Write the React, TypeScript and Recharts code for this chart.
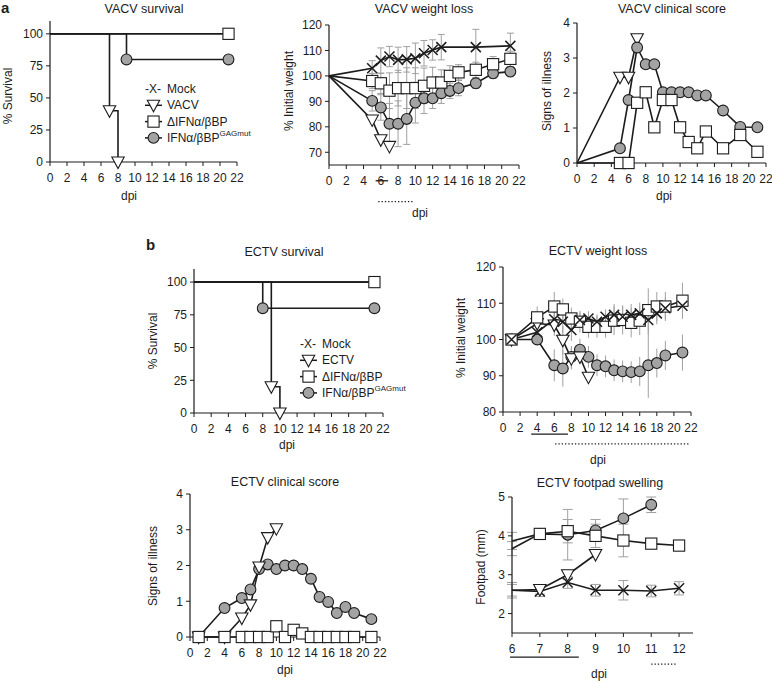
import React from "react";
import { LineChart, Line, XAxis, YAxis, ErrorBar, ReferenceLine } from "recharts";

// ---------- ticks / labels ----------
const dpiTicks = [0, 2, 4, 6, 8, 10, 12, 14, 16, 18, 20, 22];
const footpadDays = [6, 7, 8, 9, 10, 11, 12];
const survivalTicks = [0, 25, 50, 75, 100];
const vacvWeightTicks = [70, 80, 90, 100, 110, 120];
const ectvWeightTicks = [80, 90, 100, 110, 120];
const scoreTicks = [0, 1, 2, 3, 4];
const footpadTicks = [2, 3, 4, 5];

const legendVacv = ["Mock", "VACV", "\u0394IFN\u03b1/\u03b2BP", "IFN\u03b1/\u03b2BP"];
const legendEctv = ["Mock", "ECTV", "\u0394IFN\u03b1/\u03b2BP", "IFN\u03b1/\u03b2BP"];

// ---------- VACV survival ----------
const vacvSurvMockDays = [0, 21];
const vacvSurvMock = [100, 100];
const vacvSurvVirusDays = [0, 7, 8];
const vacvSurvVirus = [100, 40, 0];
const vacvSurvDeltaDays = [0, 21];
const vacvSurvDelta = [100, 100];
const vacvSurvGagDays = [0, 9, 21];
const vacvSurvGag = [100, 80, 80];

// ---------- VACV weight ----------
const vacvWtDays = [0, 5, 6, 7, 8, 9, 10, 11, 12, 13, 14, 15, 17, 19, 21];
const vacvWtMockDays = [0, 5, 6, 7, 8, 9, 10, 11, 12, 13, 17, 21];
const vacvWtMock = [100, 103, 106, 107.6, 106.3, 106.5, 106.9, 108.9, 110.2, 111.3, 111.3, 111.8];
const vacvWtMockSd = [0, 3, 5, 4, 5, 5, 6, 5, 4, 5, 7, 5];
const vacvWtDelta = [100, 98, 97.1, 94.2, 95.2, 95.2, 95.2, 96.1, 97.4, 97.4, 100, 101.4, 102.4, 104.6, 106.7];
const vacvWtDeltaSd = [0, 3, 4, 7, 7, 8, 8, 7, 6, 5, 4, 3, 3, 3, 3];
const vacvWtGag = [100, 90.2, 87.6, 81.2, 81.2, 83.1, 89.5, 91.2, 91.2, 93.2, 94.1, 95.2, 97.1, 101, 101.7];
const vacvWtGagSd = [0, 4, 5, 8, 9, 10, 8, 6, 4, 4, 3, 3, 2, 2, 2];
const vacvWtVirusDays = [0, 5, 6, 7];
const vacvWtVirus = [100, 82.7, 74.9, 72.3];

// ---------- VACV clinical score ----------
const vacvScDays = [0, 5, 6, 7, 8, 9, 10, 11, 12, 13, 14, 15, 17, 19, 21];
const vacvScVirusDays = [0, 5, 6, 7];
const vacvScVirus = [0, 2.45, 2.45, 3.55];
const vacvScGag = [0, 0.42, 1.8, 3.3, 2.82, 2.82, 2.02, 2.02, 2.02, 2.02, 1.93, 1.93, 1.5, 1.03, 1.02];
const vacvScDelta = [0, 0, 0, 1.72, 2.02, 1.02, 1.8, 1.8, 1.02, 0.6, 0.42, 0.9, 0.42, 0.8, 0.32];

// ---------- ECTV survival ----------
const ectvSurvMockDays = [0, 21];
const ectvSurvMock = [100, 100];
const ectvSurvVirusDays = [0, 9, 10];
const ectvSurvVirus = [100, 20, 0];
const ectvSurvDeltaDays = [0, 21];
const ectvSurvDelta = [100, 100];
const ectvSurvGagDays = [0, 8, 21];
const ectvSurvGag = [100, 80, 80];

// ---------- ECTV weight ----------
const ectvWtDays = [1, 4, 6, 7, 8, 9, 10, 11, 12, 13, 14, 15, 16, 17, 18, 19, 21];
const ectvWtMock = [100, 102, 105.6, 104.9, 102.6, 105.4, 105.8, 104.9, 106.3, 106.8, 106.3, 106.8, 107.2, 105.4, 107.2, 108.6, 109.3];
const ectvWtMockSd = [0, 2, 3, 3, 3, 2, 2, 2, 2, 3, 3, 3, 3, 4, 3, 3, 3];
const ectvWtDelta = [100, 106.1, 109.1, 108.3, 105.8, 104.9, 103.5, 103.5, 103.5, 105.2, 105.4, 104.6, 105.2, 108.1, 109.1, 109.1, 110.7];
const ectvWtDeltaSd = [0, 3, 4, 3, 3, 3, 3, 3, 3, 4, 4, 4, 4, 6, 4, 4, 5];
const ectvWtGag = [100, 100, 92.9, 92, 95.2, 97.2, 95.2, 92.9, 92.6, 91.5, 91.2, 91, 91.2, 92.9, 93.5, 95.6, 96.4];
const ectvWtGagSd = [0, 0, 4.4, 5, 3, 3, 3, 3, 3, 3, 3, 3, 4, 9, 4, 4, 5];
const ectvWtVirusDays = [1, 4, 6, 7, 8, 9, 10];
const ectvWtVirus = [100, 104.4, 104, 99.8, 94.7, 95.2, 89.6];
const ectvWtVirusSd = [0, 2, 3, 4, 3, 2, 0];

// ---------- ECTV clinical score ----------
const ectvScDays = [1, 4, 6, 7, 8, 9, 10, 11, 12, 13, 14, 15, 16, 17, 18, 19, 21];
const ectvScDelta = [0, 0, 0, 0, 0, 0, 0.3, 0, 0.2, 0.1, 0, 0, 0, 0, 0, 0, 0];
const ectvScGag = [0, 0.81, 1.09, 1.33, 1.9, 2.03, 1.9, 2.0, 2.0, 1.9, 1.63, 1.12, 0.98, 0.67, 0.84, 0.67, 0.5];
const ectvScVirusDays = [1, 4, 6, 7, 8, 9, 10];
const ectvScVirus = [0, 0, 0.53, 0.9, 1.96, 2.78, 3.03];

// ---------- ECTV footpad ----------
const fpMock = [2.6, 2.57, 2.8, 2.6, 2.6, 2.58, 2.65];
const fpMockSd = [0.2, 0.13, 0.15, 0.15, 0.25, 0.15, 0.17];
const fpVirusDays = [6, 7, 8, 9];
const fpVirus = [2.6, 2.62, 3.0, 3.52];
const fpVirusSd = [0.15, 0.12, 0.12, 0];
const fpDelta = [3.87, 4.05, 4.12, 4.0, 3.88, 3.8, 3.75];
const fpDeltaSd = [0.22, 0.05, 0.3, 0.3, 0.42, 0.05, 0.12];
const fpGagDays = [6, 7, 8, 9, 10, 11];
const fpGag = [3.67, 4.05, 4.03, 4.14, 4.45, 4.8];
const fpGagSd = [0.18, 0.05, 0.65, 0.28, 0.5, 0.2];

// ---------- drawing helpers ----------
const FONT = '"Liberation Sans", Arial, sans-serif';
const INK = "#1c1c1c";
const GRAY = "#a3a3a3";
const ERR = "#a0a0a0";

type Pt = { day: number; v: number; sd: number };
type Shape = "x" | "tri" | "sq" | "circ";

const pts = (days: number[], vals: number[], sd?: number[]): Pt[] =>
  days.map((d, i) => ({ day: d, v: vals[i], sd: sd ? sd[i] : 0 }));

function Marker({ shape, x, y }: { shape: Shape; x: number; y: number }) {
  if (shape === "circ")
    return <circle cx={x} cy={y} r={5.4} fill={GRAY} stroke={INK} strokeWidth={1.1} />;
  if (shape === "sq")
    return <rect x={x - 5.6} y={y - 5.6} width={11.2} height={11.2} fill="#fff" stroke={INK} strokeWidth={1.1} />;
  if (shape === "tri")
    return (
      <path d={`M${x - 6.2},${y - 5} L${x + 6.2},${y - 5} L${x},${y + 6.5} Z`} fill="#fff" stroke={INK} strokeWidth={1.1} />
    );
  return (
    <path d={`M${x - 5},${y - 5} L${x + 5},${y + 5} M${x - 5},${y + 5} L${x + 5},${y - 5}`} stroke={INK} strokeWidth={1.5} fill="none" />
  );
}

const dotFor = (shape: Shape, skipFirst: boolean) => (p: any) => {
  const k = `${shape}-${p.index}`;
  if ((skipFirst && p.index === 0) || p.cx == null || p.cy == null) return <g key={k} />;
  return (
    <g key={k}>
      <Marker shape={shape} x={p.cx} y={p.cy} />
    </g>
  );
};

function curve(id: string, data: Pt[], shape: Shape | null, step = false, skipFirst = false) {
  return (
    <Line
      key={id}
      data={data}
      dataKey="v"
      type={step ? "stepAfter" : "linear"}
      stroke={INK}
      strokeWidth={1.6}
      dot={shape ? dotFor(shape, skipFirst) : false}
      activeDot={false}
      isAnimationActive={false}
    />
  );
}

function bars(id: string, data: Pt[], cap: number) {
  return (
    <Line key={id} data={data} dataKey="v" stroke="none" dot={false} activeDot={false} isAnimationActive={false}>
      <ErrorBar dataKey="sd" width={cap} stroke={ERR} strokeWidth={1} direction="y" isAnimationActive={false} />
    </Line>
  );
}

function sig(id: string, from: number, to: number, y: number, dotted = false) {
  return (
    <ReferenceLine
      key={id}
      segment={[{ x: from, y }, { x: to, y }]}
      stroke={INK}
      strokeWidth={dotted ? 1.4 : 1.3}
      strokeDasharray={dotted ? "1.3 2" : undefined}
      ifOverflow="visible"
    />
  );
}

type Box = [number, number, number, number]; // x0, x1, y0, y1

function Panel({
  box,
  xDomain,
  xTicks,
  yDomain,
  yTicks,
  children,
}: {
  box: Box;
  xDomain: [number, number];
  xTicks: number[];
  yDomain: [number, number];
  yTicks: number[];
  children: React.ReactNode;
}) {
  const PL = 45, PR = 15, PT = 12, PB = 50;
  const tick = { fontSize: 12, fill: INK, fontFamily: FONT };
  return (
    <div style={{ position: "absolute", left: box[0] - PL, top: box[2] - PT }}>
      <LineChart
        width={box[1] - box[0] + PL + PR}
        height={box[3] - box[2] + PT + PB}
        margin={{ top: PT, right: PR, bottom: 0, left: 0 }}
      >
        <XAxis
          type="number"
          dataKey="day"
          domain={xDomain}
          ticks={xTicks}
          interval={0}
          height={PB}
          tickSize={4}
          tickMargin={7}
          stroke={INK}
          axisLine={{ stroke: INK, strokeWidth: 1.2 }}
          tick={tick}
        />
        <YAxis
          type="number"
          dataKey="v"
          domain={yDomain}
          ticks={yTicks}
          interval={0}
          width={PL}
          tickSize={4}
          tickMargin={3}
          stroke={INK}
          axisLine={{ stroke: INK, strokeWidth: 1.2 }}
          tick={tick}
        />
        {children}
      </LineChart>
    </div>
  );
}

function Legend({ x, y, names }: { x: number; y: number; names: string[] }) {
  const shapes: Shape[] = ["x", "tri", "sq", "circ"];
  const rowGap = 16.3;
  return (
    <g fontFamily={FONT} fontSize={12} fill={INK}>
      {names.map((n, i) => {
        const cy = y + i * rowGap;
        return (
          <g key={n + i}>
            {i === 0 ? (
              <text x={x} y={cy} dominantBaseline="central">-X-</text>
            ) : (
              <>
                <line x1={x} x2={x + 17} y1={cy} y2={cy} stroke={INK} strokeWidth={1.5} />
                <Marker shape={shapes[i]} x={x + 8.5} y={cy} />
              </>
            )}
            <text x={x + 22} y={cy} dominantBaseline="central">
              {n}
              {i === 3 ? (
                <tspan dy={-4.5} fontSize={8}>GAGmut</tspan>
              ) : null}
            </text>
          </g>
        );
      })}
    </g>
  );
}

const Title = ({ x, y, t }: { x: number; y: number; t: string }) => (
  <text x={x} y={y} textAnchor="middle" dominantBaseline="central">{t}</text>
);
const VLabel = ({ x, y, t }: { x: number; y: number; t: string }) => (
  <text x={x} y={y} textAnchor="middle" dominantBaseline="central" transform={`rotate(-90 ${x} ${y})`}>{t}</text>
);

export default function App() {
  return (
    <div style={{ position: "absolute", left: 0, top: 0, width: 772, height: 683, background: "#fff", overflow: "hidden" }}>
      {/* a: VACV survival */}
      <Panel box={[50, 237, 21, 162]} xDomain={[0, 22]} xTicks={dpiTicks} yDomain={[0, 110]} yTicks={survivalTicks}>
        {curve("m", pts(vacvSurvMockDays, vacvSurvMock), null, true)}
        {curve("d", pts(vacvSurvDeltaDays, vacvSurvDelta), "sq", true, true)}
        {curve("g", pts(vacvSurvGagDays, vacvSurvGag), "circ", true, true)}
        {curve("v", pts(vacvSurvVirusDays, vacvSurvVirus), "tri", true, true)}
      </Panel>

      {/* a: VACV weight loss */}
      <Panel box={[329, 519, 25, 165]} xDomain={[0, 22]} xTicks={dpiTicks} yDomain={[65, 120]} yTicks={vacvWeightTicks}>
        {bars("em", pts(vacvWtMockDays, vacvWtMock, vacvWtMockSd), 3.5)}
        {bars("ed", pts(vacvWtDays, vacvWtDelta, vacvWtDeltaSd), 3.5)}
        {bars("eg", pts(vacvWtDays, vacvWtGag, vacvWtGagSd), 3.5)}
        {curve("v", pts(vacvWtVirusDays, vacvWtVirus), "tri", false, true)}
        {curve("g", pts(vacvWtDays, vacvWtGag), "circ", false, true)}
        {curve("d", pts(vacvWtDays, vacvWtDelta), "sq", false, true)}
        {curve("m", pts(vacvWtMockDays, vacvWtMock), "x", false, true)}
        {sig("s1", 5.4, 6.85, 58.8)}
        {sig("s2", 5.7, 9.7, 50.6, true)}
      </Panel>

      {/* a: VACV clinical score */}
      <Panel box={[577, 766, 23, 163]} xDomain={[0, 22]} xTicks={dpiTicks} yDomain={[0, 4]} yTicks={scoreTicks}>
        {curve("v", pts(vacvScVirusDays, vacvScVirus), "tri", false, true)}
        {curve("g", pts(vacvScDays, vacvScGag), "circ", false, true)}
        {curve("d", pts(vacvScDays, vacvScDelta), "sq", false, true)}
      </Panel>

      {/* b: ECTV survival */}
      <Panel box={[194, 383, 269, 413]} xDomain={[0, 22]} xTicks={dpiTicks} yDomain={[0, 110]} yTicks={survivalTicks}>
        {curve("m", pts(ectvSurvMockDays, ectvSurvMock), null, true)}
        {curve("d", pts(ectvSurvDeltaDays, ectvSurvDelta), "sq", true, true)}
        {curve("g", pts(ectvSurvGagDays, ectvSurvGag), "circ", true, true)}
        {curve("v", pts(ectvSurvVirusDays, ectvSurvVirus), "tri", true, true)}
      </Panel>

      {/* b: ECTV weight loss */}
      <Panel box={[503, 691, 267, 412]} xDomain={[0, 22]} xTicks={dpiTicks} yDomain={[80, 120]} yTicks={ectvWeightTicks}>
        {bars("em", pts(ectvWtDays, ectvWtMock, ectvWtMockSd), 0)}
        {bars("ed", pts(ectvWtDays, ectvWtDelta, ectvWtDeltaSd), 0)}
        {bars("eg", pts(ectvWtDays, ectvWtGag, ectvWtGagSd), 0)}
        {bars("ev", pts(ectvWtVirusDays, ectvWtVirus, ectvWtVirusSd), 0)}
        {curve("g", pts(ectvWtDays, ectvWtGag), "circ")}
        {curve("v", pts(ectvWtVirusDays, ectvWtVirus), "tri")}
        {curve("d", pts(ectvWtDays, ectvWtDelta), "sq")}
        {curve("m", pts(ectvWtDays, ectvWtMock), "x")}
        {sig("s1", 3.3, 7.6, 73.9)}
        {sig("s2", 6.1, 21.9, 71.2, true)}
      </Panel>

      {/* b: ECTV clinical score */}
      <Panel box={[190, 380, 494, 637]} xDomain={[0, 22]} xTicks={dpiTicks} yDomain={[0, 4]} yTicks={scoreTicks}>
        {curve("g", pts(ectvScDays, ectvScGag), "circ")}
        {curve("v", pts(ectvScVirusDays, ectvScVirus), "tri")}
        {curve("d", pts(ectvScDays, ectvScDelta), "sq")}
      </Panel>

      {/* b: ECTV footpad swelling */}
      <Panel box={[512, 693, 497, 633]} xDomain={[6, 12.5]} xTicks={footpadDays} yDomain={[1.5, 5]} yTicks={footpadTicks}>
        {bars("em", pts(footpadDays, fpMock, fpMockSd), 5)}
        {bars("ed", pts(footpadDays, fpDelta, fpDeltaSd), 5)}
        {bars("eg", pts(fpGagDays, fpGag, fpGagSd), 5)}
        {bars("ev", pts(fpVirusDays, fpVirus, fpVirusSd), 5)}
        {curve("m", pts(footpadDays, fpMock), "x", false, true)}
        {curve("v", pts(fpVirusDays, fpVirus), "tri", false, true)}
        {curve("g", pts(fpGagDays, fpGag), "circ", false, true)}
        {curve("d", pts(footpadDays, fpDelta), "sq", false, true)}
        {sig("s1", 5.93, 8.4, 0.88)}
        {sig("s2", 11, 11.9, 0.7, true)}
      </Panel>

      {/* text overlay */}
      <svg width={772} height={683} style={{ position: "absolute", left: 0, top: 0, pointerEvents: "none" }}>
        <g fontFamily={FONT} fontSize={12.5} fill={INK}>
          <Title x={144} y={9} t="VACV survival" />
          <Title x={424} y={9} t="VACV weight loss" />
          <Title x={672} y={9} t="VACV clinical score" />
          <Title x={284} y={252} t="ECTV survival" />
          <Title x={598} y={251} t="ECTV weight loss" />
          <Title x={285} y={482} t="ECTV clinical score" />
          <Title x={600} y={483} t="ECTV footpad swelling" />
        </g>
        <g fontFamily={FONT} fontSize={12} fill={INK}>
          <VLabel x={8} y={96} t="% Survival" />
          <VLabel x={289} y={91} t="% Initial weight" />
          <VLabel x={547} y={91} t="Signs of illness" />
          <VLabel x={153} y={341} t="% Survival" />
          <VLabel x={461} y={338} t="% Initial weight" />
          <VLabel x={153} y={566} t="Signs of illness" />
          <VLabel x={481} y={567} t="Footpad (mm)" />
          <Title x={129} y={196} t="dpi" />
          <Title x={420} y={213} t="dpi" />
          <Title x={664} y={196} t="dpi" />
          <Title x={287} y={445} t="dpi" />
          <Title x={598} y={460} t="dpi" />
          <Title x={285} y={670} t="dpi" />
          <Title x={599} y={674} t="dpi" />
        </g>
        <g fontFamily={FONT} fontSize={15} fontWeight="bold" fill={INK}>
          <text x={1} y={13}>a</text>
          <text x={146} y={250}>b</text>
        </g>
        <Legend x={145} y={89} names={legendVacv} />
        <Legend x={300} y={344} names={legendEctv} />
      </svg>
    </div>
  );
}
